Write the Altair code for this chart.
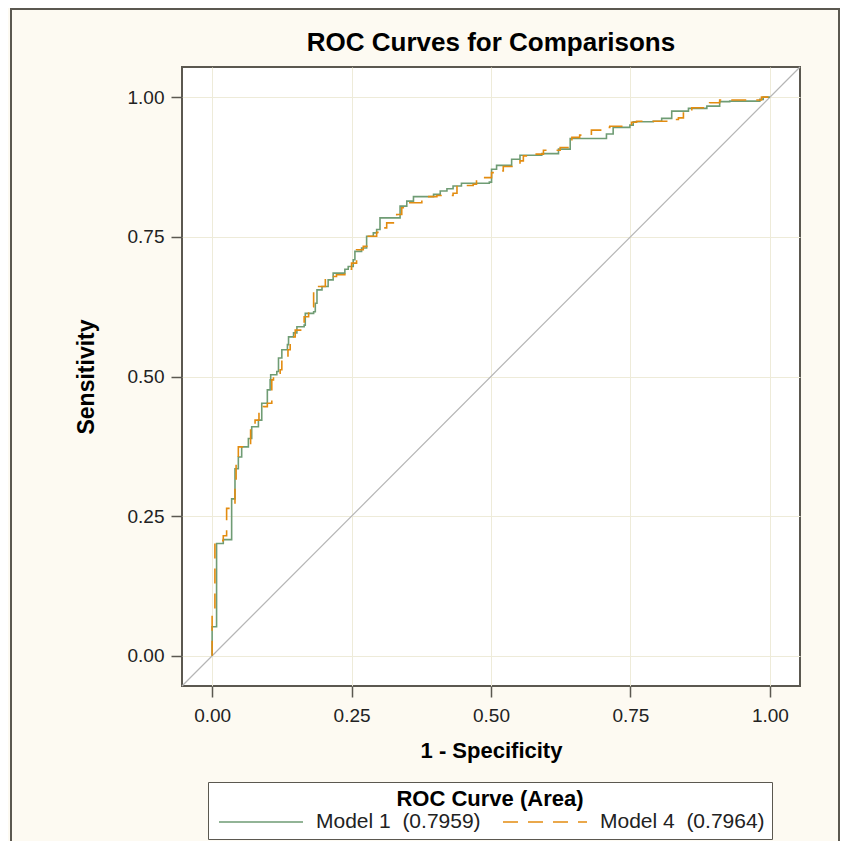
import altair as alt
import pandas as pd

# ---- data ----
model1_fpr = [0.000, 0.000, 0.008, 0.008, 0.020, 0.035, 0.035, 0.041, 0.041, 0.047,
              0.053, 0.065, 0.071, 0.083, 0.089, 0.099, 0.104, 0.105, 0.116, 0.119,
              0.125, 0.135, 0.137, 0.146, 0.152, 0.165, 0.167, 0.182, 0.185, 0.188,
              0.197, 0.208, 0.217, 0.238, 0.244, 0.253, 0.256, 0.268, 0.277, 0.289,
              0.295, 0.301, 0.334, 0.337, 0.349, 0.361, 0.379, 0.397, 0.409, 0.421,
              0.432, 0.447, 0.497, 0.501, 0.510, 0.522, 0.537, 0.552, 0.591, 0.621,
              0.642, 0.701, 0.707, 0.719, 0.749, 0.755, 0.791, 0.806, 0.824, 0.854,
              0.887, 0.910, 0.928, 0.982, 0.988, 1.000]
model1_tpr = [0.000, 0.052, 0.059, 0.201, 0.208, 0.214, 0.281, 0.282, 0.335, 0.356,
              0.374, 0.389, 0.410, 0.422, 0.452, 0.476, 0.494, 0.503, 0.509, 0.533,
              0.548, 0.557, 0.571, 0.578, 0.589, 0.592, 0.613, 0.616, 0.631, 0.655,
              0.661, 0.673, 0.685, 0.692, 0.697, 0.709, 0.724, 0.730, 0.751, 0.757,
              0.763, 0.784, 0.784, 0.805, 0.814, 0.822, 0.822, 0.826, 0.832, 0.836,
              0.841, 0.846, 0.848, 0.871, 0.878, 0.878, 0.889, 0.896, 0.899, 0.907,
              0.926, 0.926, 0.934, 0.946, 0.950, 0.956, 0.957, 0.962, 0.975, 0.980,
              0.984, 0.992, 0.993, 0.996, 1.000, 1.000]

model4_fpr = [0.000, 0.000, 0.005, 0.005, 0.011, 0.020, 0.026, 0.026, 0.031, 0.038,
              0.041, 0.043, 0.047, 0.059, 0.069, 0.077, 0.084, 0.092, 0.099, 0.107,
              0.107, 0.110, 0.122, 0.125, 0.136, 0.140, 0.149, 0.161, 0.165, 0.173,
              0.182, 0.191, 0.203, 0.215, 0.223, 0.238, 0.244, 0.250, 0.259, 0.271,
              0.280, 0.295, 0.301, 0.313, 0.331, 0.340, 0.349, 0.367, 0.376, 0.385,
              0.403, 0.432, 0.439, 0.468, 0.474, 0.498, 0.501, 0.519, 0.522, 0.540,
              0.552, 0.558, 0.573, 0.594, 0.624, 0.645, 0.659, 0.680, 0.698, 0.713,
              0.752, 0.761, 0.818, 0.836, 0.845, 0.860, 0.889, 0.892, 0.910, 0.976,
              0.985, 1.000]
model4_tpr = [0.000, 0.072, 0.072, 0.206, 0.206, 0.215, 0.233, 0.264, 0.264, 0.269,
              0.314, 0.350, 0.374, 0.380, 0.407, 0.422, 0.437, 0.446, 0.452, 0.467,
              0.494, 0.506, 0.512, 0.533, 0.548, 0.571, 0.583, 0.589, 0.607, 0.625,
              0.652, 0.661, 0.673, 0.679, 0.682, 0.685, 0.692, 0.703, 0.727, 0.733,
              0.751, 0.758, 0.766, 0.775, 0.790, 0.802, 0.811, 0.811, 0.816, 0.822,
              0.824, 0.828, 0.842, 0.844, 0.856, 0.856, 0.865, 0.868, 0.876, 0.877,
              0.886, 0.895, 0.898, 0.905, 0.910, 0.928, 0.932, 0.941, 0.946, 0.948,
              0.955, 0.957, 0.960, 0.963, 0.975, 0.981, 0.984, 0.990, 0.995, 0.995,
              1.000, 1.000]

series_labels = ["Model 1 \u00a0(0.7959)", "Model 4 \u00a0(0.7964)"]
series_colors = ["#6f9c74", "#e38c10"]
axis_ticks = [0.0, 0.25, 0.5, 0.75, 1.0]
axis_domain = [-0.054, 1.054]
diag_values = [-0.054, 1.054]

FONT = "Liberation Sans"
FRAME = "#5b5850"
GRID = "#eeebd9"
CREAM = "#fdfaf2"

rows = []
for i, (fx, ty) in enumerate(zip(model1_fpr, model1_tpr)):
    rows.append({"fpr": fx, "tpr": ty, "model": series_labels[0], "order": i})
for i, (fx, ty) in enumerate(zip(model4_fpr, model4_tpr)):
    rows.append({"fpr": fx, "tpr": ty, "model": series_labels[1], "order": i})
curves_df = pd.DataFrame(rows)
diag_df = pd.DataFrame({"dx": diag_values, "dy": diag_values})

xscale = alt.Scale(domain=axis_domain, nice=False, zero=False)
yscale = alt.Scale(domain=axis_domain, nice=False, zero=False)

x_axis = alt.Axis(values=axis_ticks, format=".2f", title="1 - Specificity",
                  grid=True, gridColor=GRID, gridWidth=1, domain=False,
                  tickColor=FRAME, tickSize=11, tickWidth=1.5,
                  labelFont=FONT, labelFontSize=19, labelColor="#222222", labelPadding=9,
                  titleFont=FONT, titleFontSize=22, titleFontWeight="bold",
                  titleColor="#000000", titlePadding=15)
y_axis = alt.Axis(values=axis_ticks, format=".2f", title="Sensitivity",
                  grid=True, gridColor=GRID, gridWidth=1, domain=False,
                  tickColor=FRAME, tickSize=11, tickWidth=1.5,
                  labelFont=FONT, labelFontSize=19, labelColor="#222222", labelPadding=7,
                  titleFont=FONT, titleFontSize=23, titleFontWeight="bold",
                  titleColor="#000000", titlePadding=29)

diag = alt.Chart(diag_df).mark_line(color="#b5b5b5", strokeWidth=1.2).encode(
    x=alt.X("dx:Q", scale=xscale, axis=x_axis),
    y=alt.Y("dy:Q", scale=yscale, axis=y_axis),
)

legend = alt.Legend(
    orient="none", legendX=26, legendY=715, direction="horizontal",
    title="ROC Curve (Area)", titleAnchor="middle", titleFont=FONT,
    titleFontSize=22, titleFontWeight="bold", titleColor="#000000", titlePadding=1,
    titleLimit=500,
    labelFont=FONT, labelFontSize=21, labelColor="#222222", labelOffset=12,
    labelLimit=400,
    symbolType="stroke", symbolSize=84 * 84, symbolStrokeWidth=1.5, clipHeight=20,
    symbolOffset=3, columnPadding=18, padding=7, strokeColor=FRAME, fillColor="white",
)

curves = alt.Chart(curves_df).mark_line(interpolate="step-after", strokeWidth=1.6).encode(
    x=alt.X("fpr:Q", scale=xscale, axis=x_axis),
    y=alt.Y("tpr:Q", scale=yscale, axis=y_axis),
    color=alt.Color("model:N", scale=alt.Scale(domain=series_labels, range=series_colors),
                    legend=legend),
    strokeDash=alt.StrokeDash("model:N",
                              scale=alt.Scale(domain=series_labels, range=[[1, 0], [15, 10]]),
                              legend=legend),
    order="order:Q",
)

# decorative outer frame of the output page
frame_left = alt.Chart(diag_df).mark_rule(color=FRAME, strokeWidth=2).encode(
    x=alt.value(-171), y=alt.value(-59), y2=alt.value(780))
frame_right = alt.Chart(diag_df).mark_rule(color=FRAME, strokeWidth=2).encode(
    x=alt.value(657), y=alt.value(-59), y2=alt.value(780))
frame_top = alt.Chart(diag_df).mark_rule(color=FRAME, strokeWidth=2).encode(
    x=alt.value(-172), x2=alt.value(660), y=alt.value(-58))

chart = alt.layer(diag, curves, frame_left, frame_right, frame_top).properties(
    width=618, height=619,
    title=alt.TitleParams("ROC Curves for Comparisons", font=FONT, fontSize=26,
                          fontWeight="bold", color="#000000", anchor="middle",
                          frame="group", offset=0, baseline="bottom", dy=75),
    padding={"left": 174, "top": 59, "right": 40, "bottom": 155},
    autosize="none",
    background=CREAM,
).configure_view(stroke=FRAME, strokeWidth=2, fill="white")

chart.save("out.html", embed_options={"renderer": "svg", "actions": False})
